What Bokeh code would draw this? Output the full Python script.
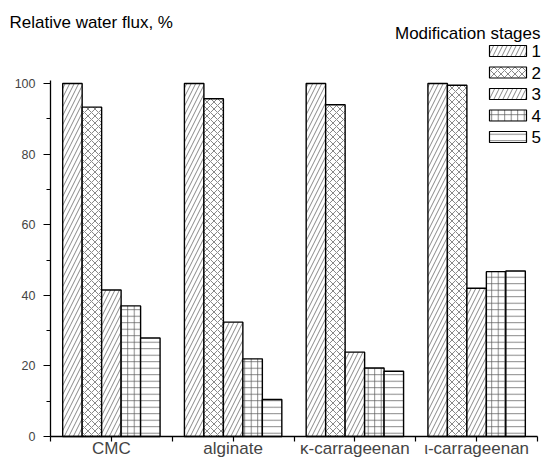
from bokeh.plotting import figure
from bokeh.models import Range1d, FixedTicker, ColumnDataSource
from bokeh.embed import file_html
from bokeh.resources import INLINE
from bokeh.core.properties import value

# ---- data ----
categories = ["CMC", "alginate", "\u03ba-carrageenan", "\u03b9-carrageenan"]
stage_names = ["1", "2", "3", "4", "5"]
stage1 = [100.0, 100.0, 100.0, 100.0]
stage2 = [93.3, 95.7, 94.0, 99.5]
stage3 = [41.5, 32.4, 23.9, 42.0]
stage4 = [37.0, 22.0, 19.4, 46.7]
stage5 = [27.9, 10.5, 18.5, 46.9]
y_ticks = [0, 20, 40, 60, 80, 100]
y_minor = [10, 30, 50, 70, 90]
title_text = "Relative water flux, %"
legend_title = "Modification stages"

stages = [stage1, stage2, stage3, stage4, stage5]

# ---- styles / layout ----
FONT = "Liberation Sans"
hatches = ["/", "x", "/", "+", "-"]
hatch_scales = [9, 7, 9, 6.5, 6.5]
HATCH_COLOR = "#555555"
bar_w = 0.16
W, H = 543, 458
ax_left = 50          # canvas x of the y axis
ax_bottom = 436       # canvas y of the x axis
px_y = 3.53           # pixels per y unit
px_x = 121.75         # pixels per category


def dx(cx):
    return (cx - ax_left) / px_x


def dy(cy):
    return (ax_bottom - cy) / px_y


p = figure(width=W, height=H, frame_width=W, frame_height=H,
           output_backend="svg", toolbar_location=None,
           x_range=Range1d(dx(0), dx(W)), y_range=Range1d(dy(H), dy(0)),
           min_border=0, min_border_left=0, min_border_right=0,
           min_border_top=0, min_border_bottom=0)
p.outline_line_color = None
p.xgrid.visible = False
p.ygrid.visible = False
p.background_fill_color = "white"
p.border_fill_color = "white"

# bars
for k, vals in enumerate(stages):
    xs = [i + 0.5 + (k - 2) * bar_w for i in range(len(categories))]
    src = ColumnDataSource(dict(x=xs, top=vals))
    p.vbar(x="x", top="top", bottom=0, width=bar_w, source=src,
           fill_color="white", line_color="black", line_width=1.4,
           hatch_pattern=hatches[k], hatch_color=HATCH_COLOR, hatch_weight=0.7,
           hatch_scale=hatch_scales[k])

# axes (drawn inside the frame at fixed locations)
yax = p.yaxis[0]
yax.fixed_location = 0
yax.ticker = FixedTicker(ticks=y_ticks, minor_ticks=y_minor)
yax.bounds = (0, 100.8)
yax.axis_line_width = 1.3
yax.major_tick_out = 7
yax.major_tick_in = 0
yax.minor_tick_out = 4
yax.minor_tick_in = 0
yax.major_tick_line_width = 1.2
yax.minor_tick_line_width = 1.2
yax.major_label_text_font = FONT
yax.major_label_text_font_size = "12.5px"
yax.major_label_standoff = 8

xax = p.xaxis[0]
xax.fixed_location = 0
centers = [i + 0.5 for i in range(len(categories))]
xax.ticker = FixedTicker(ticks=centers, minor_ticks=list(range(len(categories) + 1)))
xax.major_label_overrides = {c: name for c, name in zip(centers, categories)}
xax.bounds = (0, len(categories))
xax.axis_line_width = 1.3
xax.major_tick_out = 5
xax.major_tick_in = 0
xax.minor_tick_out = 5
xax.minor_tick_in = 0
xax.major_tick_line_width = 1.2
xax.minor_tick_line_width = 1.2
xax.major_label_text_font = FONT
xax.major_label_text_font_size = "17px"
xax.major_label_standoff = -3

# title at top-left
p.text(x=[dx(9)], y=[dy(22)], text=[title_text],
       text_font=value(FONT), text_font_size="17px", text_align="left",
       text_baseline="middle", text_color="black")

# legend
leg_x_box = dx(507.5)
leg_x_lab = dx(531)
leg_ys = [dy(yy) for yy in (50.5, 72, 93.5, 115, 136.5)]
p.text(x=[dx(540)], y=[dy(33)], text=[legend_title],
       text_font=value(FONT), text_font_size="17px", text_align="right",
       text_baseline="middle", text_color="black")
for k in range(len(stage_names)):
    p.rect(x=[leg_x_box], y=[leg_ys[k]], width=37, height=11,
           width_units="screen", height_units="screen",
           fill_color="white", line_color="black", line_width=1.2,
           hatch_pattern=hatches[k], hatch_color=HATCH_COLOR, hatch_weight=0.7,
           hatch_scale=hatch_scales[k])
p.text(x=[leg_x_lab] * len(stage_names), y=leg_ys, text=stage_names,
       text_font=value(FONT), text_font_size="17px", text_align="left",
       text_baseline="middle", text_color="black")

open("out.html", "w").write(file_html(p, INLINE))
